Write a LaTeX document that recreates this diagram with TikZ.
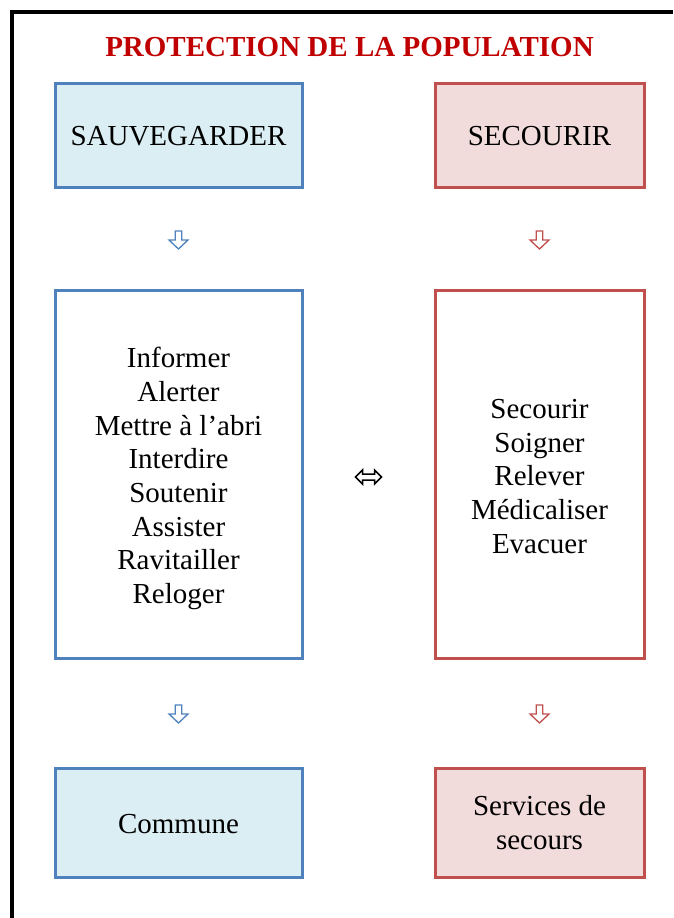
\documentclass[tikz,border=0pt]{standalone}
\usepackage{fontspec}
\setmainfont{Liberation Serif}
\definecolor{bleu}{HTML}{4F81BD}
\definecolor{bleuclair}{HTML}{DAEEF3}
\definecolor{rouge}{HTML}{C0504D}
\definecolor{rougeclair}{HTML}{F2DCDB}
\definecolor{titre}{HTML}{C00000}
\newcommand\lignes[2]{\raisebox{-#1}[\height][\depth]{\begin{tabular}{@{}c@{}}#2\end{tabular}}}
\tikzset{
  boite/.style={draw,line width=3pt,align=center,inner sep=0pt,
    font=\fontsize{29}{33.7}\selectfont},
  gauche/.style={boite,draw=bleu,minimum width=247pt},
  droite/.style={boite,draw=rouge,minimum width=209pt},
  fleche/.style={line width=1.3pt,fill=white,line join=miter}
}
\begin{document}
\begin{tikzpicture}[x=1pt,y=-1pt]
\useasboundingbox (0,0) rectangle (673,918);
\draw[line width=3.5pt] (12,918)--(12,12)--(673,12);
\node[text=titre,font=\bfseries\fontsize{29}{33.7}\selectfont] (titre) at (349.5,47) {PROTECTION DE LA POPULATION};

\node[gauche,fill=bleuclair,minimum height=104pt] (sauv) at (178.5,135) {\lignes{4pt}{SAUVEGARDER}};
\node[droite,fill=rougeclair,minimum height=104pt] (secou) at (539.5,135) {\lignes{4pt}{SECOURIR}};

\node[gauche,fill=white,minimum height=368pt] (actsauv) at (178.5,474) {\lignes{5pt}{Informer\\Alerter\\Mettre à l’abri\\Interdire\\Soutenir\\Assister\\Ravitailler\\Reloger}};
\node[droite,fill=white,minimum height=368pt] (actsecou) at (539.5,474) {\lignes{5pt}{Secourir\\Soigner\\Relever\\Médicaliser\\Evacuer}};

\node[gauche,fill=bleuclair,minimum height=109pt] (commune) at (178.5,822.5) {\lignes{4.5pt}{Commune}};
\node[droite,fill=rougeclair,minimum height=109pt] (services) at (539.5,822.5) {\lignes{3.5pt}{Services de\\secours}};

\coordinate (f1) at (178.5,240);
\coordinate (f2) at (539.5,240);
\coordinate (f3) at (178.5,714);
\coordinate (f4) at (539.5,714);
\coordinate (equiv) at (368.5,477);

\foreach \c/\col in {f1/bleu,f2/rouge,f3/bleu,f4/rouge}
  \draw[fleche,draw=\col,shift={(\c)}] (-3.2,-9)--(3.2,-9)--(3.2,0)--(9.5,0)--(0,9)--(-9.5,0)--(-3.2,0)--cycle;
\draw[fleche,line width=1.5pt,shift={(equiv)}] (-13,0)--(-6,-7)--(-6,-3)--(6,-3)--(6,-7)--(13,0)--(6,7)--(6,3)--(-6,3)--(-6,7)--cycle;
\end{tikzpicture}
\end{document}
